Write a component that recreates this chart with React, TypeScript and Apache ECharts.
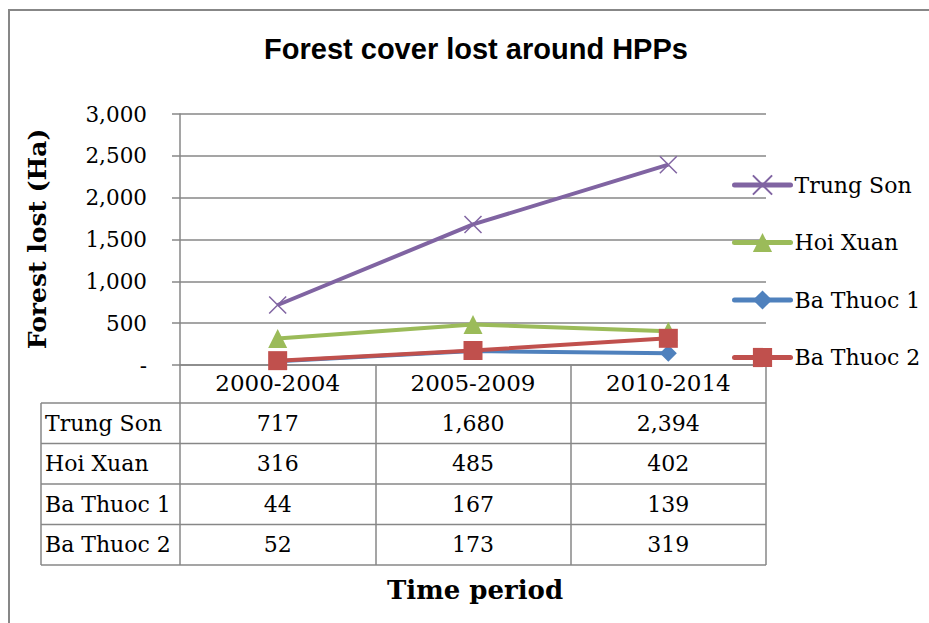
import React, { useEffect, useRef } from "react";
import * as echarts from "echarts";

const categories = ["2000-2004", "2005-2009", "2010-2014"];
const seriesNames = ["Trung Son", "Hoi Xuan", "Ba Thuoc 1", "Ba Thuoc 2"];
const trungSon = [717, 1680, 2394];
const hoiXuan = [316, 485, 402];
const baThuoc1 = [44, 167, 139];
const baThuoc2 = [52, 173, 319];
const yMin = 0;
const yMax = 3000;
const yStep = 500;
const titleText = "Forest cover lost around HPPs";
const yName = "Forest lost (Ha)";
const xName = "Time period";

const seriesData = [trungSon, hoiXuan, baThuoc1, baThuoc2];
const colors = ["#8064A2", "#9BBB59", "#4F81BD", "#C0504D"];
const symbols = [
  "path://M0,0L10,10M10,0L0,10",
  "triangle",
  "diamond",
  "rect",
];
const symbolSizes = [17, 19, 17, 19];

const W = 929;
const H = 623;
const GL = 180;
const GT = 114;
const GR = 766;
const GB = 365;
const ROW_TOP = 403;
const ROW_H = 40.5;
const TABLE_LEFT = 41;
const GRAY = "#878787";
const SERIF = "'DejaVu Serif', serif";

const fmt = (v: number) => (v === 0 ? "-" : v.toLocaleString("en-US"));

export default function App() {
  const ref = useRef<HTMLDivElement>(null);
  useEffect(() => {
    document.body.style.margin = "0";
    const chart = echarts.init(ref.current!, null, { renderer: "svg" });
    const colW = (GR - GL) / categories.length;
    const nRows = seriesNames.length;
    const tableBottom = ROW_TOP + ROW_H * nRows;

    const graphics: any[] = [];
    graphics.push({
      type: "polyline",
      shape: { points: [[9, H + 5], [9, 10], [W + 5, 10]] },
      style: { stroke: GRAY, lineWidth: 2, fill: "none" },
      silent: true,
    });
    for (let r = 0; r <= nRows; r++) {
      const y = ROW_TOP + r * ROW_H;
      graphics.push({
        type: "line",
        shape: { x1: TABLE_LEFT, y1: y, x2: GR, y2: y },
        style: { stroke: GRAY, lineWidth: 1.5 },
        silent: true,
      });
    }
    graphics.push({
      type: "line",
      shape: { x1: TABLE_LEFT, y1: ROW_TOP, x2: TABLE_LEFT, y2: tableBottom },
      style: { stroke: GRAY, lineWidth: 1.5 },
      silent: true,
    });
    seriesNames.forEach((name, r) => {
      const cy = ROW_TOP + (r + 0.5) * ROW_H;
      graphics.push({
        type: "text",
        x: TABLE_LEFT + 4,
        y: cy,
        style: {
          text: name,
          fontSize: 22,
          fontFamily: SERIF,
          fill: "#000",
          textAlign: "left",
          textVerticalAlign: "middle",
          align: "left",
          verticalAlign: "middle",
        },
        silent: true,
      });
      seriesData[r].forEach((v, c) => {
        graphics.push({
          type: "text",
          x: GL + (c + 0.5) * colW,
          y: cy,
          style: {
            text: fmt(v),
            fontSize: 22,
            fontFamily: SERIF,
            fill: "#000",
            textAlign: "center",
            textVerticalAlign: "middle",
            align: "center",
            verticalAlign: "middle",
          },
          silent: true,
        });
      });
    });
    graphics.push({
      type: "text",
      x: 37,
      y: 239,
      rotation: Math.PI / 2,
      style: {
        text: yName,
        fontSize: 25,
        fontWeight: "bold",
        fontFamily: SERIF,
        fill: "#000",
        textAlign: "center",
        textVerticalAlign: "middle",
        align: "center",
        verticalAlign: "middle",
      },
      silent: true,
    });
    graphics.push({
      type: "text",
      x: 475,
      y: 590,
      style: {
        text: xName,
        fontSize: 26,
        fontWeight: "bold",
        fontFamily: SERIF,
        fill: "#000",
        textAlign: "center",
        textVerticalAlign: "middle",
        align: "center",
        verticalAlign: "middle",
      },
      silent: true,
    });

    chart.setOption({
      animation: false,
      backgroundColor: "#fff",
      title: {
        text: titleText,
        left: 476,
        top: 34,
        padding: 0,
        textAlign: "center",
        textStyle: {
          fontFamily: "'Liberation Sans', Arial, sans-serif",
          fontWeight: "bold",
          fontSize: 29,
          color: "#000",
        },
      },
      grid: { left: GL, top: GT, width: GR - GL, height: GB - GT, containLabel: false },
      legend: {
        orient: "vertical",
        left: 732,
        top: 173,
        padding: 0,
        itemWidth: 56,
        itemHeight: 24,
        itemGap: 33.5,
        data: seriesNames,
        lineStyle: { width: 5, cap: "round" },
        textStyle: { fontFamily: SERIF, fontSize: 22, color: "#000", lineHeight: 24, padding: [0, 0, 0, -1] },
      },
      xAxis: {
        type: "category",
        data: categories,
        boundaryGap: true,
        axisLine: { show: true, lineStyle: { color: GRAY, width: 1.5 } },
        axisTick: {
          show: true,
          interval: 0,
          length: tableBottom - GB,
          lineStyle: { color: GRAY, width: 1.5 },
        },
        axisLabel: {
          interval: 0,
          margin: 6,
          fontFamily: SERIF,
          fontSize: 23,
          color: "#000",
        },
        splitLine: { show: false },
      },
      yAxis: {
        type: "value",
        min: yMin,
        max: yMax,
        interval: yStep,
        axisLine: { show: true, lineStyle: { color: GRAY, width: 1.5 } },
        axisTick: { show: true, length: 8, lineStyle: { color: GRAY, width: 1.5 } },
        axisLabel: {
          margin: 33,
          fontFamily: SERIF,
          fontSize: 21.5,
          color: "#000",
          formatter: (v: number) => fmt(v),
        },
        splitLine: { show: true, lineStyle: { color: GRAY, width: 1.5 } },
      },
      graphic: graphics,
      series: seriesNames.map((name, i) => ({
        name,
        type: "line",
        data: seriesData[i],
        symbol: symbols[i],
        symbolSize: symbolSizes[i],
        showAllSymbol: true,
        lineStyle: { color: colors[i], width: 4 },
        itemStyle: {
          color: colors[i],
          borderColor: colors[i],
          borderWidth: i === 0 ? 1.5 : 0,
        },
        emphasis: { disabled: true },
      })),
    });
    return () => chart.dispose();
  }, []);
  return <div ref={ref} style={{ width: W, height: H }} />;
}
